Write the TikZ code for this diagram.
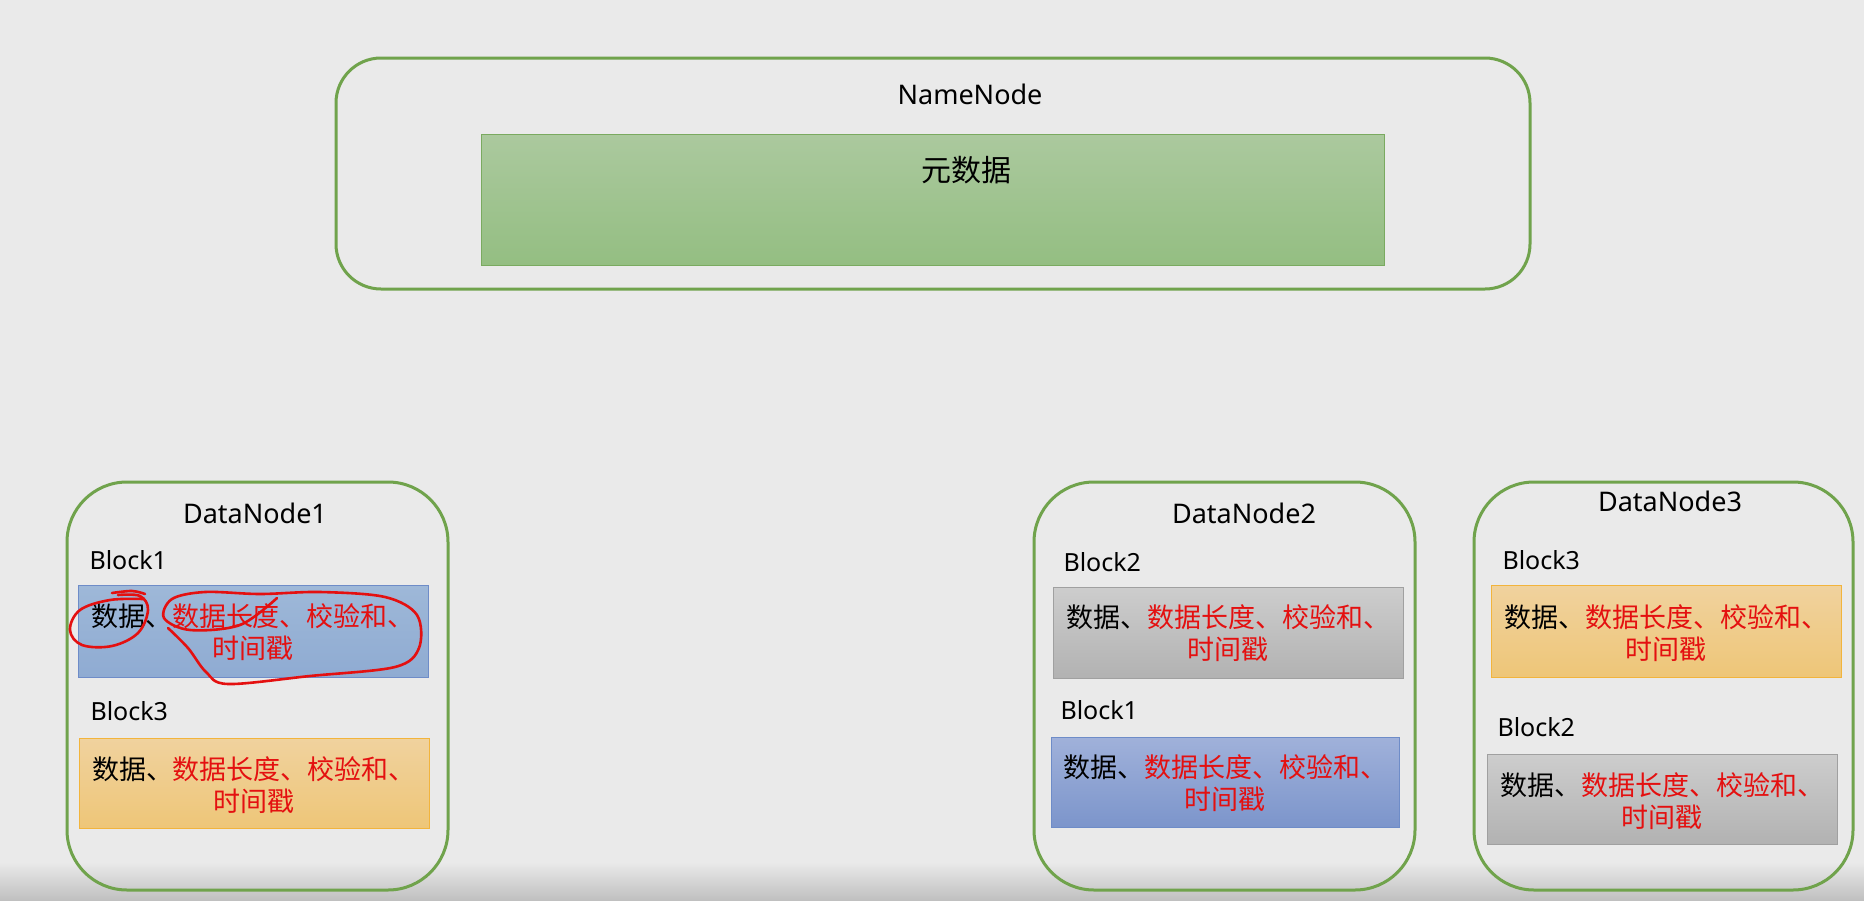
\documentclass[tikz,border=0pt]{standalone}
\usepackage{fontspec}
\setmainfont{Noto Sans}
\newfontfamily\cjkfont{Noto Sans CJK SC}
\definecolor{bgc}{RGB}{234,234,234}
\definecolor{frame}{RGB}{112,163,76}
\definecolor{redtxt}{RGB}{228,16,16}
\definecolor{bluetop}{RGB}{158,184,216}
\definecolor{bluebot}{RGB}{143,171,210}
\definecolor{blue2top}{RGB}{160,177,218}
\definecolor{blue2bot}{RGB}{124,149,203}
\definecolor{blueedge}{RGB}{110,140,200}
\definecolor{orangetop}{RGB}{240,210,158}
\definecolor{orangebot}{RGB}{238,198,120}
\definecolor{orangeedge}{RGB}{242,180,60}
\definecolor{greytop}{RGB}{205,205,205}
\definecolor{greybot}{RGB}{178,178,178}
\definecolor{greyedge}{RGB}{160,160,160}
\definecolor{greentop}{RGB}{171,201,158}
\definecolor{greenbot}{RGB}{148,190,130}
\definecolor{greenedge}{RGB}{122,170,96}
\tikzset{
  server/.style={draw=frame, line width=3pt, rounded corners=60pt},
  title/.style={font=\fontsize{27}{32}\selectfont, text=black},
  blocklabel/.style={font=\fontsize{25}{30}\selectfont, text=black, anchor=west},
  blocktext/.style={font=\cjkfont\fontsize{27}{31.5}\selectfont, align=center, text=black},
  blueblock/.style={draw=blueedge, line width=0.8pt, top color=bluetop, bottom color=bluebot},
  blue2block/.style={draw=blueedge, line width=0.8pt, top color=blue2top, bottom color=blue2bot},
  orangeblock/.style={draw=orangeedge, line width=0.8pt, top color=orangetop, bottom color=orangebot},
  greyblock/.style={draw=greyedge, line width=0.8pt, top color=greytop, bottom color=greybot},
  scribble/.style={draw=redtxt, line width=2.6pt, line cap=round, line join=round}
}
\newcommand{\blocktxt}{数据、\textcolor{redtxt}{数据长度、校验和、}\\\textcolor{redtxt}{时间戳}}
\begin{document}
\begin{tikzpicture}[x=1pt,y=-1pt]
\useasboundingbox (0,0) rectangle (1864,900);
\fill[bgc] (0,0) rectangle (1864,900);
\shade[top color=bgc, bottom color={rgb,255:red,192;green,192;blue,192}] (0,862) rectangle (1864,900);

% NameNode
\draw[server, rounded corners=45pt] (336,58) rectangle (1530,289);
\node[title] (nn) at (970,94) {NameNode};
\draw[draw=greenedge, line width=0.8pt, top color=greentop, bottom color=greenbot] (481,134) rectangle (1384,265);
\node[font=\cjkfont\fontsize{30}{34}\selectfont] (meta) at (966,170) {元数据};

% DataNode1
\draw[server] (67,482) rectangle (448,890);
\node[title] (dn1) at (255,513) {DataNode1};
\node[blocklabel] (dn1b1l) at (86,560) {Block1};
\draw[blueblock] (78,585) rectangle (428,677);
\node[blocktext] (dn1b1) at (253,632) {\blocktxt};
\node[blocklabel] (dn1b3l) at (87,711) {Block3};
\draw[orangeblock] (79,738) rectangle (429,828);
\node[blocktext] (dn1b3) at (254,785) {\blocktxt};

% DataNode2
\draw[server] (1034,482) rectangle (1415,890);
\node[title] (dn2) at (1244,513) {DataNode2};
\node[blocklabel] (dn2b2l) at (1060,562) {Block2};
\draw[greyblock] (1053,587) rectangle (1403,678);
\node[blocktext] (dn2b2) at (1228,633) {\blocktxt};
\node[blocklabel] (dn2b1l) at (1057,710) {Block1};
\draw[blue2block] (1051,737) rectangle (1399,827);
\node[blocktext] (dn2b1) at (1225,783) {\blocktxt};

% DataNode3
\draw[server] (1474,482) rectangle (1853,890);
\node[title] (dn3) at (1670,501) {DataNode3};
\node[blocklabel] (dn3b3l) at (1499,560) {Block3};
\draw[orangeblock] (1491,585) rectangle (1841,677);
\node[blocktext] (dn3b3) at (1666,633) {\blocktxt};
\node[blocklabel] (dn3b2l) at (1494,727) {Block2};
\draw[greyblock] (1487,754) rectangle (1837,844);
\node[blocktext] (dn3b2) at (1662,801) {\blocktxt};

% red hand-drawn circles (DataNode1, Block1)
\draw[scribble] plot[smooth, tension=0.6] coordinates {(118,595) (140,596) (148,610) (138,633) (112,646) (82,645) (70,630) (80,610) (110,600) (143,599)};
\draw[scribble] plot[smooth, tension=0.6] coordinates {(112,593) (132,591) (145,594)};
\draw[scribble] plot[smooth, tension=0.55] coordinates {(277,598) (240,625) (190,630) (164,618) (172,599) (205,592) (260,594) (320,592) (385,597) (417,615) (419,648) (395,667) (310,676) (228,684) (206,672) (188,648) (168,628)};
\end{tikzpicture}
\end{document}
